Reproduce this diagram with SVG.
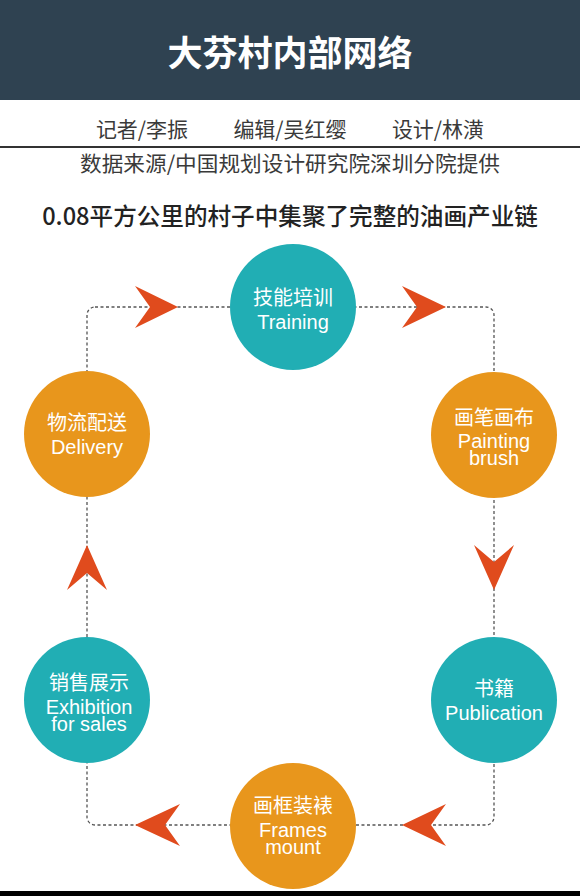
<svg xmlns="http://www.w3.org/2000/svg" width="580" height="896" viewBox="0 0 580 896">
<style>
.cjk{font-family:"Noto Sans CJK SC","Noto Sans",sans-serif}
.hdr{fill:#fff;font-size:35px;font-weight:bold;text-anchor:middle}
.by{fill:#3a3a3a;font-size:21px;text-anchor:middle}
.sub{fill:#222;font-size:23.6px;font-weight:500;text-anchor:middle}
.teal{fill:#21aeb4}
.orange{fill:#e8961c}
.lc{fill:#fff;font-size:20px;text-anchor:middle;font-family:"Noto Sans CJK SC","Noto Sans",sans-serif}
.le{fill:#fff;font-size:20px;text-anchor:middle;font-family:"Liberation Sans",Arial,sans-serif}
.arrow{fill:#e04b1d}
.dash{fill:none;stroke:#555;stroke-width:1.3;stroke-dasharray:3 2.5}
</style>
<rect x="0" y="0" width="580" height="896" fill="#fff"/>
<rect x="0" y="0" width="580" height="100" fill="#2f4251"/>
<text class="cjk hdr" x="290" y="66">大芬村内部网络</text>
<text class="cjk by" x="142" y="137">记者/李振</text>
<text class="cjk by" x="290" y="137">编辑/吴红缨</text>
<text class="cjk by" x="438" y="137">设计/林潢</text>
<line x1="0" y1="147" x2="580" y2="147" stroke="#333" stroke-width="2"/>
<text class="cjk by" x="290" y="171" textLength="420" lengthAdjust="spacingAndGlyphs">数据来源/中国规划设计研究院深圳分院提供</text>
<text class="cjk sub" x="290" y="225">0.08平方公里的村子中集聚了完整的油画产业链</text>

<g id="connectors">
<rect class="dash" x="87" y="307" width="407" height="518" rx="8"/>
<path class="arrow" d="M178,307 L135,286 L150,307 L135,328 Z"/>
<path class="arrow" d="M446,307 L402,286 L417,307 L402,328 Z"/>
<path class="arrow" d="M494,590 L474,545 L494,562 L514,545 Z"/>
<path class="arrow" d="M402,825 L446,804 L431,825 L446,846 Z"/>
<path class="arrow" d="M135,825 L180,804 L165,825 L180,846 Z"/>
<path class="arrow" d="M87,545 L67,590 L87,573 L107,590 Z"/>
</g>

<g id="training">
<circle class="teal" cx="293" cy="307" r="63"/>
<text class="lc" x="293" y="305">技能培训</text>
<text class="le" x="293" y="329">Training</text>
</g>
<g id="painting">
<circle class="orange" cx="494" cy="435" r="63"/>
<text class="lc" x="494" y="425">画笔画布</text>
<text class="le" x="494" y="448">Painting<tspan x="494" dy="17">brush</tspan></text>
</g>
<g id="publication">
<circle class="teal" cx="494" cy="700" r="63"/>
<text class="lc" x="494" y="696">书籍</text>
<text class="le" x="494" y="720">Publication</text>
</g>
<g id="frames">
<circle class="orange" cx="293" cy="826" r="63"/>
<text class="lc" x="293" y="813">画框装裱</text>
<text class="le" x="293" y="837">Frames<tspan x="293" dy="17">mount</tspan></text>
</g>
<g id="exhibition">
<circle class="teal" cx="87" cy="700" r="63"/>
<text class="lc" x="89" y="690">销售展示</text>
<text class="le" x="89" y="714">Exhibition<tspan x="89" dy="17">for sales</tspan></text>
</g>
<g id="delivery">
<circle class="orange" cx="87" cy="434" r="63"/>
<text class="lc" x="87" y="430">物流配送</text>
<text class="le" x="87" y="454">Delivery</text>
</g>
<rect x="0" y="891" width="580" height="5" fill="#000"/>
</svg>
